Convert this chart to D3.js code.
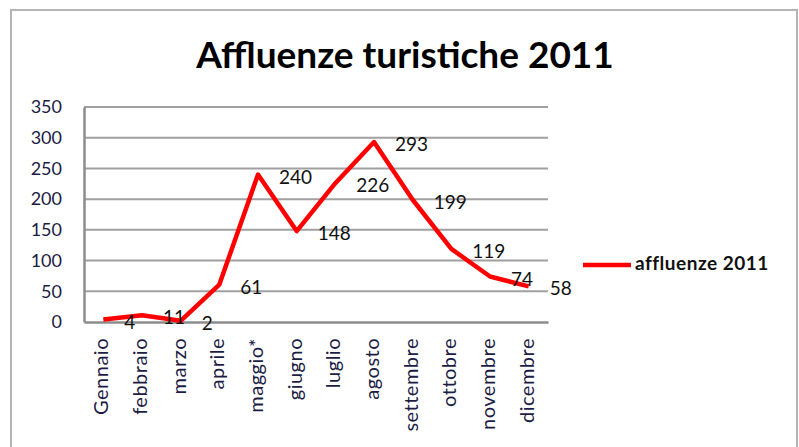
<!DOCTYPE html>
<html>
<head>
<meta charset="utf-8">
<script src="https://cdn.jsdelivr.net/npm/d3@7"></script>
<style>
  body { margin: 0; background: #fff; }
  text { font-family: Lato, "Open Sans", sans-serif; }
</style>
</head>
<body>
<div id="chart"></div>
<script>
// data
var months = ["Gennaio", "febbraio", "marzo", "aprile", "maggio*", "giugno",
    "luglio", "agosto", "settembre", "ottobre", "novembre", "dicembre"];
var values = [4, 11, 2, 61, 240, 148, 226, 293, 199, 119, 74, 58];
var yTicks = [0, 50, 100, 150, 200, 250, 300, 350];
var seriesName = "affluenze 2011";
var title = "Affluenze turistiche 2011";

var W = 799, H = 447;
var margin = { top: 107, right: 251, bottom: 125, left: 84 },
    width = W - margin.left - margin.right,
    height = H - margin.top - margin.bottom;

var svg = d3.select("#chart")
    .append("svg")
    .attr("width", W)
    .attr("height", H);

// outer frame
svg.append("rect")
    .attr("x", 11).attr("y", 10)
    .attr("width", 786).attr("height", 460)
    .attr("fill", "none")
    .attr("stroke", "#b4b4b4")
    .attr("stroke-width", 2);

svg.append("text")
    .attr("x", 405)
    .attr("y", 68)
    .attr("text-anchor", "middle")
    .attr("font-size", 37)
    .attr("font-weight", "bold")
    .attr("fill", "#000")
    .text(title);

var g = svg.append("g")
    .attr("transform", "translate(" + margin.left + "," + margin.top + ")");

var x = d3.scaleBand()
    .domain(months)
    .range([0, width]);

var y = d3.scaleLinear()
    .domain([0, 350])
    .range([height, 0]);

// gridlines
g.append("g")
    .selectAll("line")
    .data(yTicks.slice(1))
    .enter()
    .append("line")
    .attr("x1", 0)
    .attr("x2", width)
    .attr("y1", function (d) { return y(d); })
    .attr("y2", function (d) { return y(d); })
    .attr("stroke", "#a0a0a0")
    .attr("stroke-width", 2);

// y axis
var yAxis = g.append("g")
    .call(d3.axisLeft(y).tickValues(yTicks).tickSize(0).tickPadding(22));
yAxis.select(".domain").attr("stroke", "#8c8c8c").attr("stroke-width", 2.5);
yAxis.selectAll("text")
    .attr("font-size", 18)
    .attr("fill", "#1c1c44")
    .style("font-family", "Lato, sans-serif");

// x axis
var xAxis = g.append("g")
    .attr("transform", "translate(0," + height + ")")
    .call(d3.axisBottom(x).tickSize(0).tickPadding(0));
xAxis.select(".domain").attr("stroke", "#8c8c8c").attr("stroke-width", 2.5);
xAxis.selectAll("text")
    .attr("font-size", 20)
    .attr("letter-spacing", 0.5)
    .attr("fill", "#1c1c44")
    .attr("text-anchor", "end")
    .attr("dominant-baseline", "middle")
    .attr("transform", "translate(0,16) rotate(-90)")
    .attr("x", 0)
    .attr("y", 0)
    .attr("dy", null)
    .style("font-family", "Lato, sans-serif");

// line
var line = d3.line()
    .x(function (d, i) { return x(months[i]) + x.bandwidth() / 2; })
    .y(function (d) { return y(d); });

g.append("path")
    .datum(values)
    .attr("fill", "none")
    .attr("stroke", "#ff0000")
    .attr("stroke-width", 4.5)
    .attr("stroke-linejoin", "round")
    .attr("d", line);

// data labels (to the right of each point)
g.append("g")
    .selectAll("text")
    .data(values)
    .enter()
    .append("text")
    .attr("x", function (d, i) { return x(months[i]) + x.bandwidth() / 2 + 21; })
    .attr("y", function (d) { return y(d) + 9; })
    .attr("font-size", 19)
    .attr("fill", "#111")
    .text(function (d) { return d; });

// legend
var legend = svg.append("g")
    .attr("transform", "translate(583,265)");
legend.append("line")
    .attr("x1", 0).attr("x2", 48)
    .attr("stroke", "#ff0000")
    .attr("stroke-width", 4.5);
legend.append("text")
    .attr("x", 52)
    .attr("dominant-baseline", "middle")
    .attr("font-size", 19)
    .attr("letter-spacing", 0.5)
    .attr("font-weight", "bold")
    .attr("fill", "#111")
    .text(seriesName);
</script>
</body>
</html>
